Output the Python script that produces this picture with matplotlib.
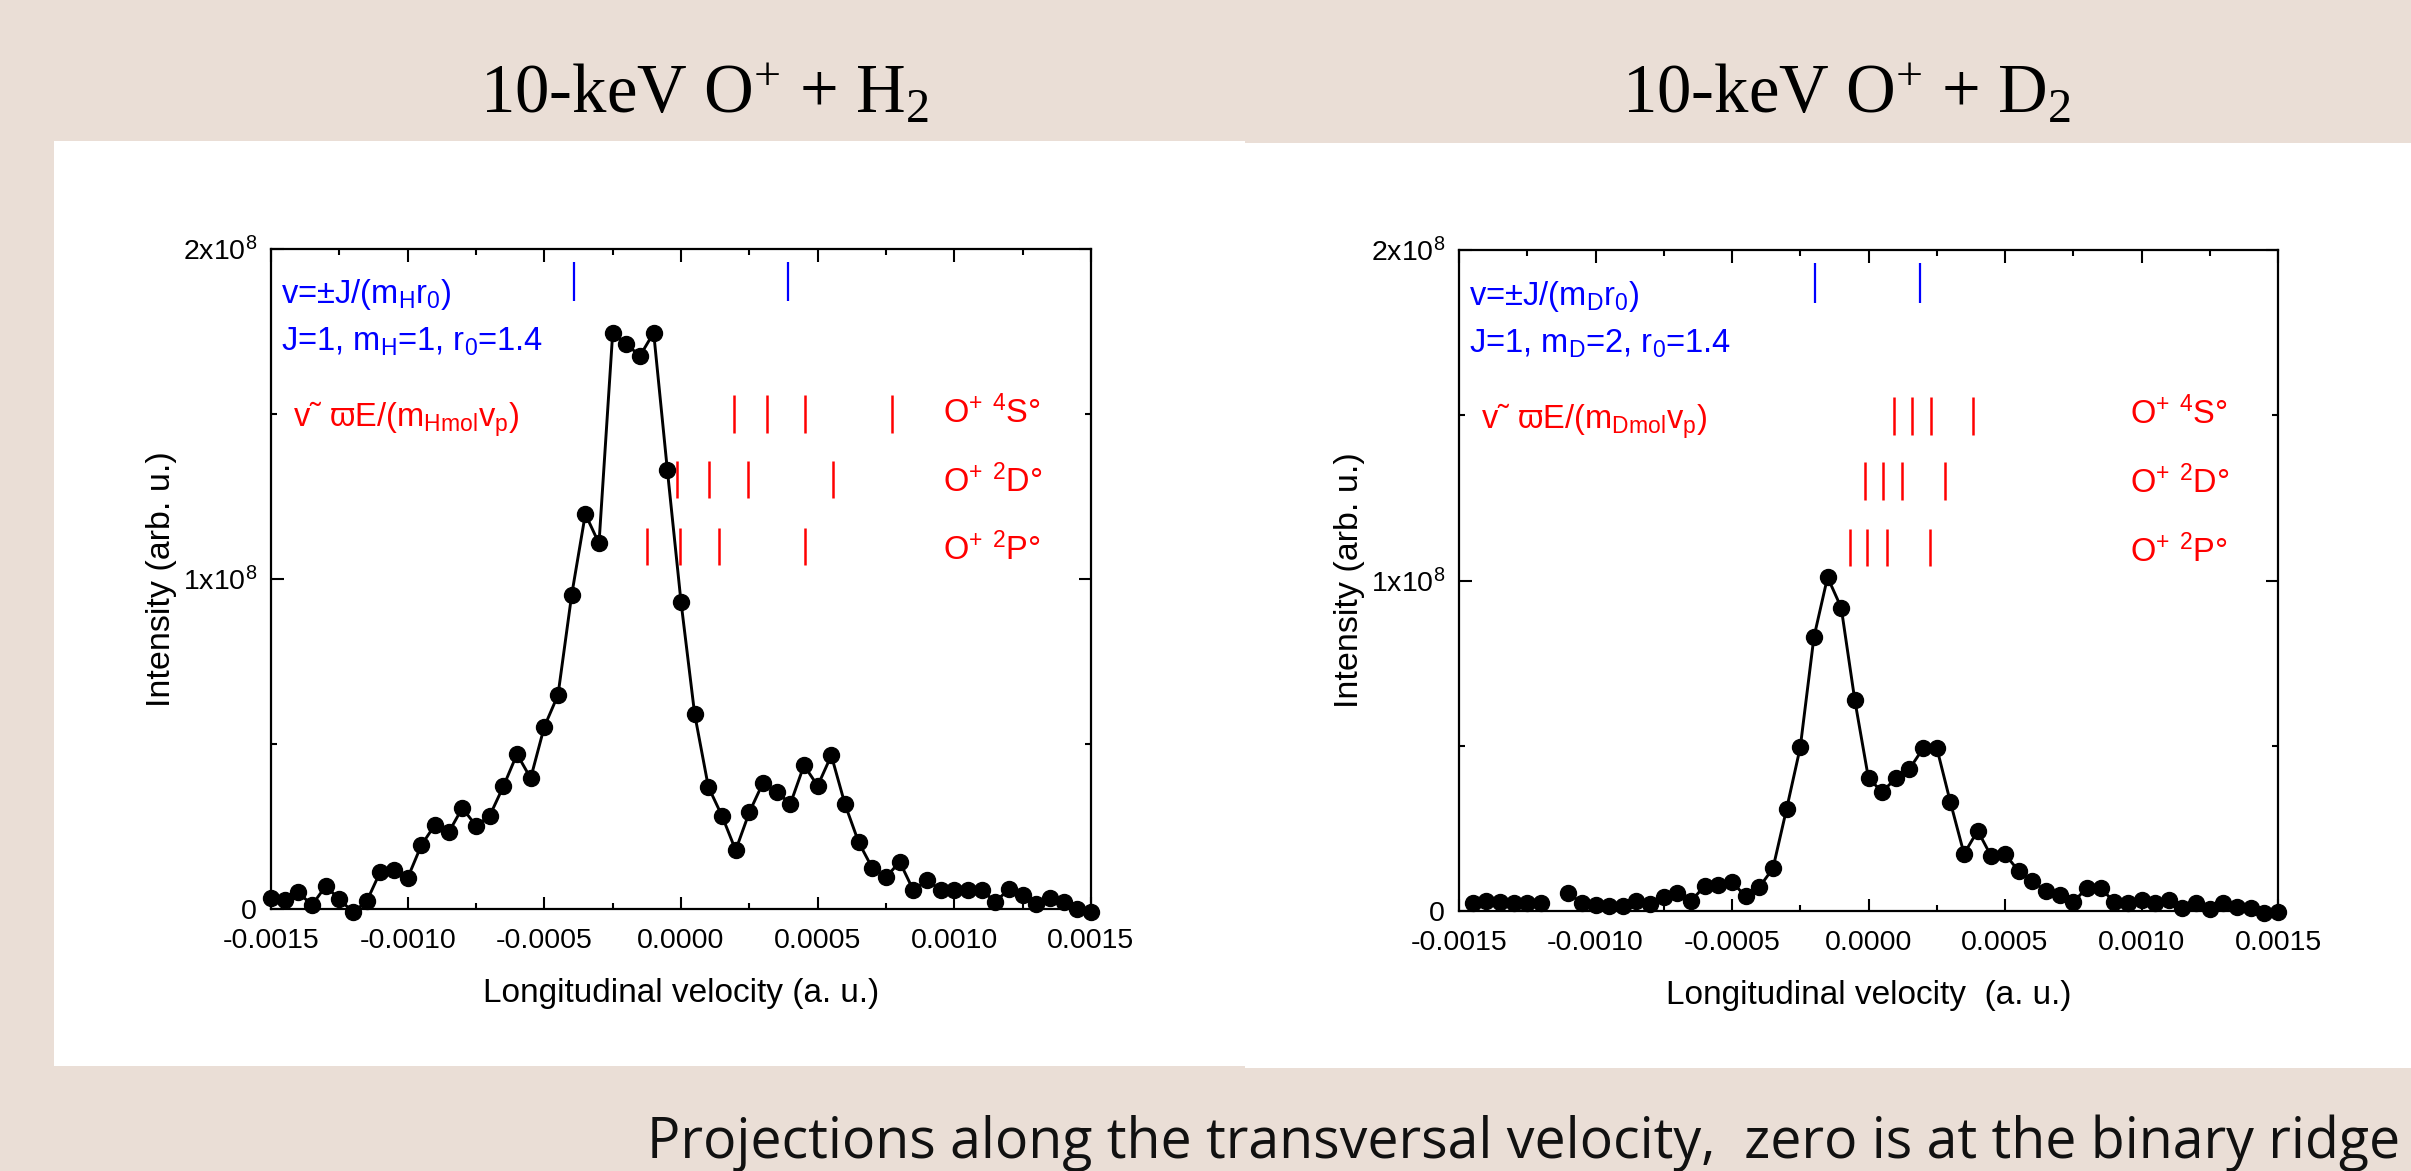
import numpy as np
import matplotlib
matplotlib.use("Agg")
import matplotlib.pyplot as plt
from matplotlib.patches import Rectangle
from matplotlib.ticker import MultipleLocator, FixedLocator, FixedFormatter

plt.rcParams['font.family'] = ['Liberation Sans', 'DejaVu Sans']
plt.rcParams['mathtext.default'] = 'regular'

# ---------------- data ----------------
vel_h2 = [-0.00150, -0.00145, -0.00140, -0.00135, -0.00130, -0.00125, -0.00120, -0.00115,
          -0.00110, -0.00105, -0.00100, -0.00095, -0.00090, -0.00085, -0.00080, -0.00075,
          -0.00070, -0.00065, -0.00060, -0.00055, -0.00050, -0.00045, -0.00040, -0.00035,
          -0.00030, -0.00025, -0.00020, -0.00015, -0.00010, -0.00005, 0.00000, 0.00005,
          0.00010, 0.00015, 0.00020, 0.00025, 0.00030, 0.00035, 0.00040, 0.00045,
          0.00050, 0.00055, 0.00060, 0.00065, 0.00070, 0.00075, 0.00080, 0.00085,
          0.00090, 0.00095, 0.00100, 0.00105, 0.00110, 0.00115, 0.00120, 0.00125,
          0.00130, 0.00135, 0.00140, 0.00145, 0.00150]
# intensity in units of 1e8
int_h2 = [0.032, 0.028, 0.050, 0.012, 0.069, 0.030, -0.010, 0.023,
          0.113, 0.117, 0.094, 0.193, 0.255, 0.232, 0.306, 0.252,
          0.282, 0.371, 0.469, 0.396, 0.552, 0.648, 0.951, 1.196,
          1.107, 1.743, 1.710, 1.675, 1.745, 1.330, 0.930, 0.590,
          0.370, 0.282, 0.178, 0.293, 0.382, 0.355, 0.318, 0.435,
          0.373, 0.465, 0.317, 0.202, 0.124, 0.096, 0.143, 0.057,
          0.088, 0.057, 0.057, 0.057, 0.057, 0.022, 0.060, 0.043,
          0.015, 0.032, 0.021, 0.001, -0.010]

vel_d2 = [-0.00145, -0.00140, -0.00135, -0.00130, -0.00125, -0.00120, -0.00115,
          -0.00110, -0.00105, -0.00100, -0.00095, -0.00090, -0.00085, -0.00080, -0.00075,
          -0.00070, -0.00065, -0.00060, -0.00055, -0.00050, -0.00045, -0.00040, -0.00035,
          -0.00030, -0.00025, -0.00020, -0.00015, -0.00010, -0.00005, 0.00000, 0.00005,
          0.00010, 0.00015, 0.00020, 0.00025, 0.00030, 0.00035, 0.00040, 0.00045,
          0.00050, 0.00055, 0.00060, 0.00065, 0.00070, 0.00075, 0.00080, 0.00085,
          0.00090, 0.00095, 0.00100, 0.00105, 0.00110, 0.00115, 0.00120, 0.00125,
          0.00130, 0.00135, 0.00140, 0.00145, 0.00150]
int_d2 = [0.024, 0.031, 0.028, 0.024, 0.024, 0.024, np.nan,
          0.054, 0.024, 0.017, 0.015, 0.016, 0.030, 0.020, 0.043,
          0.054, 0.030, 0.076, 0.079, 0.088, 0.044, 0.072, 0.129,
          0.309, 0.495, 0.828, 1.010, 0.918, 0.637, 0.401, 0.361,
          0.401, 0.430, 0.492, 0.494, 0.329, 0.173, 0.243, 0.165,
          0.172, 0.121, 0.090, 0.060, 0.047, 0.027, 0.070, 0.070,
          0.027, 0.025, 0.033, 0.025, 0.033, 0.010, 0.025, 0.007,
          0.023, 0.013, 0.010, -0.005, -0.002]

# rotational marks v = +-J/(m r0)
rot_h2 = [-0.00039, 0.00039]
rot_d2 = [-0.000195, 0.000190]
rot_span = [1.84, 1.96]

# state marks (rows: 4S, 2D, 2P)
state_labels = ["O$^{+}$ $^{4}$S°", "O$^{+}$ $^{2}$D°", "O$^{+}$ $^{2}$P°"]
state_h2 = [[0.000194, 0.000313, 0.000455, 0.000773],
            [-0.000016, 0.000103, 0.000244, 0.000555],
            [-0.000126, -0.000005, 0.000139, 0.000455]]
state_d2 = [[0.000095, 0.000158, 0.000230, 0.000382],
            [-0.000013, 0.000053, 0.000123, 0.000282],
            [-0.000069, -0.000004, 0.000067, 0.000226]]
state_spans = [[1.441, 1.556], [1.243, 1.358], [1.043, 1.155]]
state_baselines = [1.472, 1.263, 1.057]

xticks = [-0.0015, -0.0010, -0.0005, 0.0000, 0.0005, 0.0010, 0.0015]
xticklabels = ["-0.0015", "-0.0010", "-0.0005", "0.0000", "0.0005", "0.0010", "0.0015"]
yticks = [0, 1e8, 2e8]
yticklabels = ["0", "1x10$^{8}$", "2x10$^{8}$"]

titles = ["10-keV O$^{+}$ + H$_{2}$", "10-keV O$^{+}$ + D$_{2}$"]
xlabels = ["Longitudinal velocity (a. u.)", "Longitudinal velocity  (a. u.)"]
rot_texts = [["v=±J/(m$_{H}$r$_{0}$)", "J=1, m$_{H}$=1, r$_{0}$=1.4", "v˜ ϖE/(m$_{Hmol}$v$_{p}$)"],
             ["v=±J/(m$_{D}$r$_{0}$)", "J=1, m$_{D}$=2, r$_{0}$=1.4", "v˜ ϖE/(m$_{Dmol}$v$_{p}$)"]]
caption = "Projections along the transversal velocity,  zero is at the binary ridge"

# ---------------- figure ----------------
W, H = 2411, 1171
fig = plt.figure(figsize=(W / 100, H / 100), dpi=100)
fig.patch.set_facecolor('#EADED6')

def fx(px):
    return px / W

def fy(py):
    return 1 - py / H

fig.patches.append(Rectangle((fx(54), fy(1066)), fx(1245 - 54), (1066 - 141) / H,
                             transform=fig.transFigure, facecolor='white', edgecolor='none', zorder=-10))
fig.patches.append(Rectangle((fx(1245), fy(1068)), fx(W - 1245), (1068 - 143) / H,
                             transform=fig.transFigure, facecolor='white', edgecolor='none', zorder=-10))

axes_px = [(271, 1091, 248.5, 909), (1459, 2278, 250, 911)]
datasets = [(vel_h2, int_h2, rot_h2, state_h2), (vel_d2, int_d2, rot_d2, state_d2)]

for i, ((x0, x1, y0, y1), (vel, inten, rot, states)) in enumerate(zip(axes_px, datasets)):
    ax = fig.add_axes([fx(x0), fy(y1), fx(x1 - x0), (y1 - y0) / H])
    ax.set_facecolor('white')
    ax.plot(vel, np.array(inten) * 1e8, color='black', lw=2.1, marker='o',
            markersize=11.5, markerfacecolor='black', markeredgecolor='black',
            clip_on=False, zorder=4)
    ax.set_xlim(-0.0015, 0.0015)
    ax.set_ylim(0, 2e8)
    ax.xaxis.set_major_locator(FixedLocator(xticks))
    ax.xaxis.set_major_formatter(FixedFormatter(xticklabels))
    ax.xaxis.set_minor_locator(MultipleLocator(0.00025))
    ax.yaxis.set_major_locator(FixedLocator(yticks))
    ax.yaxis.set_major_formatter(FixedFormatter(yticklabels))
    ax.yaxis.set_minor_locator(MultipleLocator(0.5e8))
    ax.tick_params(which='both', direction='in', top=True, right=True, width=1.5,
                   labelsize=20.5, colors='black')
    ax.tick_params(axis='x', which='major', length=9, pad=14)
    ax.tick_params(axis='x', which='minor', length=4)
    ax.tick_params(axis='y', which='major', length=9, pad=10)
    ax.tick_params(axis='y', which='minor', length=4.5)
    for sp in ax.spines.values():
        sp.set_linewidth(1.6)
    ax.set_xlabel(xlabels[i], fontsize=24, labelpad=17)
    ax.set_ylabel("Intensity (arb. u.)", fontsize=24.5, labelpad=4)

    ax.vlines(rot, rot_span[0] * 1e8, rot_span[1] * 1e8, colors='#0000FF', lw=1.6)
    for row, span, lab, base in zip(states, state_spans, state_labels, state_baselines):
        ax.vlines(row, span[0] * 1e8, span[1] * 1e8, colors='#FF0000', lw=1.8)
        ax.text(0.000957, base * 1e8, lab, color='#FF0000', fontsize=23.5,
                ha='left', va='baseline')
    ax.text(-0.001465, 1.835e8, rot_texts[i][0], color='#0000FF', fontsize=23.5, ha='left', va='baseline')
    ax.text(-0.001465, 1.69e8, rot_texts[i][1], color='#0000FF', fontsize=23.5, ha='left', va='baseline')
    ax.text(-0.00142, 1.46e8, rot_texts[i][2], color='#FF0000', fontsize=23.5, ha='left', va='baseline')

fig.text(fx(705), fy(112), titles[0], fontsize=49.5, family='Liberation Serif',
         ha='center', va='baseline')
fig.text(fx(1847), fy(112), titles[1], fontsize=49.5, family='Liberation Serif',
         ha='center', va='baseline')
fig.text(fx(647), fy(1158), caption, fontsize=40, family='Open Sans',
         ha='left', va='baseline', color='#111111')

fig.savefig('out.png', dpi=100, facecolor=fig.get_facecolor())
